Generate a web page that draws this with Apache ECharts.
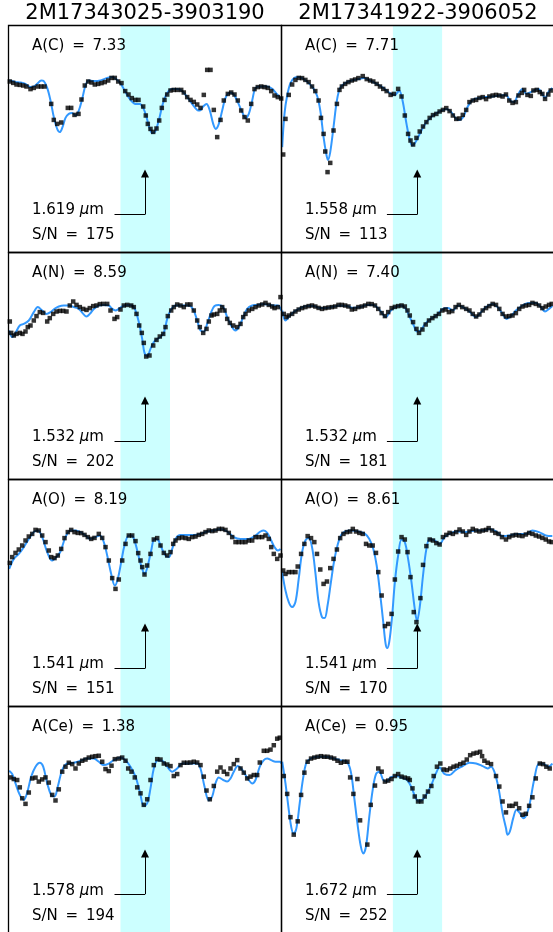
<!DOCTYPE html>
<html>
<head>
<meta charset="utf-8">
<script src="https://cdn.jsdelivr.net/npm/echarts@6/dist/echarts.min.js"></script>
<style>
html,body{margin:0;padding:0;background:#fff;}
#chart{width:553px;height:932px;}
</style>
</head>
<body>
<div id="chart"></div>
<script>
// ---------- labels ----------
const stars = ['2M17343025-3903190', '2M17341922-3906052'];
const elements = ['C', 'N', 'O', 'Ce'];
const abund = [['7.33', '7.71'], ['8.59', '7.40'], ['8.19', '8.61'], ['1.38', '0.95']];
const lineMicron = [['1.619', '1.558'], ['1.532', '1.532'], ['1.541', '1.541'], ['1.578', '1.672']];
const snr = [['175', '113'], ['202', '181'], ['151', '170'], ['194', '252']];

// wavelength offset from line centre (Angstrom), normalised flux
const bandLim = [-2.45, 2.5];

// ---------- observed spectra (points) and synthetic fits (lines) ----------
const obs_C_A = [[-13.52,0.970],[-13.18,0.963],[-12.85,0.955],[-12.52,0.953],[-12.18,0.950],[-11.85,0.945],[-11.45,0.932],[-11.12,0.938],[-10.72,0.945],[-10.38,0.945],[-10.05,0.945],[-9.38,0.858],[-9.12,0.778],[-8.78,0.758],[-8.38,0.765],[-7.72,0.838],[-7.38,0.838],[-7.05,0.803],[-6.65,0.808],[-6.35,0.880],[-6.02,0.950],[-5.68,0.970],[-5.35,0.965],[-5.02,0.955],[-4.68,0.958],[-4.35,0.962],[-4.02,0.967],[-3.68,0.975],[-3.35,0.988],[-3.02,0.988],[-2.68,0.970],[-2.35,0.962],[-1.98,0.922],[-1.65,0.905],[-1.32,0.887],[-0.98,0.878],[-0.65,0.878],[-0.18,0.845],[0.08,0.800],[0.28,0.758],[0.55,0.733],[0.82,0.718],[1.15,0.735],[1.42,0.775],[1.68,0.838],[1.95,0.878],[2.22,0.905],[2.55,0.925],[2.88,0.928],[3.22,0.928],[3.62,0.928],[3.88,0.915],[4.22,0.892],[4.55,0.878],[4.88,0.868],[5.22,0.855],[5.55,0.838],[5.88,0.903],[6.22,1.028],[6.55,1.028],[6.88,0.828],[7.22,0.692],[7.55,0.778],[7.88,0.875],[8.28,0.908],[8.62,0.915],[8.95,0.905],[9.28,0.875],[9.62,0.825],[9.95,0.792],[10.28,0.775],[10.62,0.858],[10.95,0.932],[11.28,0.942],[11.62,0.945],[11.95,0.942],[12.28,0.938],[12.62,0.922],[12.95,0.900],[13.28,0.892],[13.62,0.885]];
const mod_C_A = [[-13.58,0.975],[-12.95,0.968],[-12.45,0.965],[-11.95,0.958],[-11.45,0.942],[-11.12,0.945],[-10.78,0.958],[-10.38,0.975],[-10.12,0.972],[-9.78,0.938],[-9.45,0.875],[-9.12,0.792],[-8.78,0.733],[-8.52,0.717],[-8.25,0.742],[-7.95,0.788],[-7.62,0.808],[-7.28,0.812],[-6.95,0.800],[-6.62,0.825],[-6.28,0.883],[-5.95,0.950],[-5.62,0.975],[-5.12,0.972],[-4.45,0.975],[-3.78,0.988],[-3.28,0.992],[-2.78,0.978],[-2.38,0.955],[-1.95,0.917],[-1.45,0.878],[-0.95,0.858],[-0.52,0.858],[-0.18,0.838],[0.15,0.792],[0.48,0.733],[0.75,0.712],[1.02,0.720],[1.38,0.775],[1.78,0.858],[2.22,0.912],[2.72,0.932],[3.22,0.932],[3.72,0.922],[4.22,0.892],[4.72,0.858],[5.22,0.828],[5.48,0.825],[5.82,0.845],[6.15,0.858],[6.48,0.825],[6.82,0.758],[7.08,0.733],[7.38,0.758],[7.72,0.825],[8.05,0.888],[8.48,0.915],[8.88,0.905],[9.28,0.867],[9.72,0.817],[10.05,0.787],[10.38,0.808],[10.72,0.875],[11.05,0.937],[11.55,0.945],[12.22,0.945],[12.72,0.933],[13.22,0.905],[13.65,0.882]];

const obs_C_B = [[-13.48,0.605],[-13.25,0.783],[-12.92,0.903],[-12.58,0.955],[-12.25,0.978],[-11.92,0.988],[-11.58,0.987],[-11.25,0.978],[-10.92,0.967],[-10.58,0.945],[-10.25,0.922],[-9.92,0.875],[-9.68,0.788],[-9.42,0.708],[-9.25,0.620],[-9.02,0.517],[-8.75,0.563],[-8.42,0.725],[-8.08,0.858],[-7.82,0.928],[-7.58,0.945],[-7.25,0.958],[-6.92,0.967],[-6.58,0.975],[-6.25,0.980],[-5.92,0.987],[-5.48,0.997],[-5.08,0.982],[-4.75,0.975],[-4.42,0.970],[-4.08,0.958],[-3.75,0.945],[-3.42,0.933],[-3.08,0.922],[-2.68,0.903],[-2.35,0.908],[-1.92,0.933],[-1.58,0.895],[-1.25,0.800],[-0.92,0.708],[-0.68,0.675],[-0.42,0.655],[-0.08,0.688],[0.25,0.720],[0.58,0.745],[0.92,0.767],[1.25,0.788],[1.58,0.802],[1.92,0.808],[2.25,0.820],[2.58,0.828],[2.92,0.837],[3.25,0.822],[3.58,0.800],[3.92,0.783],[4.25,0.785],[4.58,0.803],[4.92,0.828],[5.25,0.867],[5.58,0.875],[5.92,0.878],[6.25,0.888],[6.58,0.892],[6.92,0.882],[7.25,0.895],[7.58,0.900],[7.92,0.903],[8.25,0.900],[8.58,0.895],[8.92,0.905],[9.25,0.875],[9.58,0.863],[9.92,0.867],[10.18,0.900],[10.52,0.913],[10.75,0.928],[11.08,0.903],[11.42,0.898],[11.68,0.925],[12.02,0.928],[12.32,0.917],[12.58,0.908],[12.85,0.883],[13.18,0.905],[13.42,0.925]];
const mod_C_B = [[-13.58,0.642],[-13.35,0.808],[-13.08,0.900],[-12.75,0.962],[-12.35,0.988],[-11.92,0.992],[-11.42,0.982],[-10.92,0.962],[-10.48,0.938],[-10.08,0.900],[-9.75,0.825],[-9.42,0.692],[-9.15,0.608],[-8.98,0.578],[-8.75,0.617],[-8.42,0.742],[-8.08,0.875],[-7.75,0.938],[-7.25,0.962],[-6.58,0.975],[-5.92,0.982],[-5.42,0.987],[-4.75,0.975],[-4.08,0.958],[-3.42,0.938],[-2.75,0.912],[-2.25,0.903],[-1.82,0.925],[-1.48,0.875],[-1.08,0.758],[-0.75,0.678],[-0.48,0.650],[-0.08,0.675],[0.42,0.725],[0.92,0.767],[1.58,0.800],[2.25,0.820],[2.92,0.833],[3.42,0.817],[3.92,0.783],[4.25,0.778],[4.65,0.795],[5.08,0.845],[5.58,0.878],[6.25,0.888],[6.92,0.892],[7.58,0.895],[8.25,0.900],[8.92,0.903],[9.32,0.875],[9.75,0.867],[10.08,0.900],[10.58,0.933],[10.98,0.908],[11.42,0.917],[11.85,0.928],[12.18,0.933],[12.52,0.912],[12.85,0.888],[13.18,0.917],[13.58,0.938]];

const obs_N_A = [[-13.52,0.905],[-13.38,0.848],[-13.12,0.835],[-12.85,0.843],[-12.52,0.848],[-12.25,0.843],[-11.95,0.855],[-11.72,0.877],[-11.45,0.885],[-11.12,0.910],[-10.85,0.932],[-10.52,0.952],[-10.18,0.948],[-9.78,0.905],[-9.52,0.922],[-9.18,0.943],[-8.85,0.955],[-8.52,0.958],[-8.18,0.958],[-7.85,0.955],[-7.52,0.985],[-7.18,1.005],[-6.85,0.988],[-6.52,0.977],[-6.18,0.968],[-5.85,0.963],[-5.52,0.972],[-5.18,0.982],[-4.85,0.985],[-4.52,0.992],[-4.18,0.993],[-3.78,0.993],[-3.45,0.960],[-3.05,0.918],[-2.78,0.927],[-2.45,0.965],[-2.12,0.985],[-1.78,0.988],[-1.38,0.985],[-1.12,0.977],[-0.85,0.943],[-0.58,0.885],[-0.32,0.848],[-0.12,0.798],[0.12,0.730],[0.45,0.735],[0.82,0.785],[1.15,0.813],[1.48,0.830],[1.82,0.843],[2.05,0.877],[2.28,0.932],[2.62,0.960],[2.88,0.977],[3.22,0.990],[3.55,0.985],[3.88,0.977],[4.22,0.990],[4.55,0.990],[4.88,0.960],[5.22,0.910],[5.48,0.877],[5.82,0.848],[6.15,0.868],[6.38,0.905],[6.65,0.935],[6.88,0.940],[7.22,0.943],[7.48,0.960],[7.72,0.977],[7.95,0.960],[8.22,0.918],[8.48,0.898],[8.82,0.885],[9.22,0.877],[9.55,0.893],[9.82,0.927],[10.05,0.943],[10.38,0.960],[10.72,0.968],[11.05,0.977],[11.38,0.985],[11.72,0.990],[12.05,0.998],[12.38,0.988],[12.72,0.980],[12.95,0.972],[13.28,0.977],[13.55,1.027]];
const mod_N_A = [[-13.58,0.860],[-13.28,0.827],[-12.95,0.848],[-12.52,0.885],[-12.12,0.893],[-11.62,0.910],[-11.12,0.952],[-10.72,0.977],[-10.28,0.960],[-9.85,0.943],[-9.45,0.952],[-9.05,0.968],[-8.62,0.980],[-8.12,0.985],[-7.62,0.985],[-7.12,0.977],[-6.62,0.968],[-6.18,0.943],[-5.85,0.930],[-5.52,0.943],[-5.12,0.968],[-4.62,0.985],[-4.12,0.988],[-3.62,0.985],[-3.28,0.968],[-2.95,0.960],[-2.62,0.968],[-2.28,0.980],[-1.78,0.988],[-1.28,0.985],[-0.95,0.960],[-0.62,0.902],[-0.28,0.818],[-0.05,0.748],[0.22,0.732],[0.55,0.768],[0.88,0.802],[1.22,0.818],[1.55,0.827],[1.88,0.848],[2.22,0.918],[2.55,0.960],[3.05,0.985],[3.72,0.985],[4.38,0.985],[4.82,0.965],[5.22,0.910],[5.55,0.860],[5.88,0.855],[6.22,0.893],[6.62,0.952],[6.95,0.982],[7.38,0.988],[7.82,0.977],[8.22,0.927],[8.62,0.885],[9.05,0.860],[9.38,0.877],[9.82,0.927],[10.22,0.968],[10.72,0.985],[11.22,0.988],[11.88,0.993],[12.38,0.988],[12.82,0.985],[13.28,0.985],[13.65,0.960]];

const obs_N_B = [[-13.42,0.943],[-13.15,0.927],[-12.92,0.935],[-12.58,0.943],[-12.25,0.955],[-11.92,0.965],[-11.58,0.972],[-11.25,0.977],[-10.92,0.982],[-10.58,0.985],[-10.25,0.980],[-9.92,0.973],[-9.58,0.968],[-9.25,0.972],[-8.92,0.975],[-8.58,0.977],[-8.25,0.980],[-7.92,0.988],[-7.58,0.988],[-7.25,0.985],[-6.92,0.980],[-6.58,0.965],[-6.25,0.968],[-5.92,0.977],[-5.58,0.980],[-5.25,0.985],[-4.92,0.993],[-4.58,0.992],[-4.25,0.985],[-3.92,0.968],[-3.58,0.947],[-3.25,0.932],[-2.92,0.952],[-2.58,0.972],[-2.25,0.978],[-1.92,0.982],[-1.58,0.985],[-1.25,0.980],[-0.98,0.960],[-0.75,0.935],[-0.42,0.902],[-0.08,0.868],[0.18,0.848],[0.52,0.865],[0.85,0.890],[1.18,0.910],[1.52,0.922],[1.85,0.932],[2.18,0.943],[2.52,0.960],[2.85,0.965],[3.18,0.952],[3.52,0.957],[3.85,0.977],[4.18,0.988],[4.52,0.977],[4.92,0.968],[5.25,0.960],[5.58,0.943],[5.92,0.930],[6.25,0.940],[6.58,0.960],[6.92,0.972],[7.25,0.982],[7.58,0.993],[7.92,0.988],[8.25,0.968],[8.58,0.943],[8.92,0.930],[9.25,0.932],[9.58,0.935],[9.92,0.947],[10.25,0.968],[10.58,0.980],[10.92,0.985],[11.25,0.988],[11.58,0.998],[11.92,0.993],[12.25,0.985],[12.58,0.972],[12.92,0.980],[13.25,0.988],[13.52,0.993]];
const mod_N_B = [[-13.58,0.960],[-13.25,0.910],[-12.92,0.927],[-12.42,0.952],[-11.75,0.972],[-11.08,0.982],[-10.42,0.982],[-9.75,0.972],[-9.08,0.973],[-8.42,0.980],[-7.75,0.985],[-7.08,0.982],[-6.42,0.973],[-5.75,0.977],[-5.08,0.988],[-4.42,0.988],[-3.75,0.960],[-3.15,0.927],[-2.75,0.955],[-2.25,0.977],[-1.58,0.985],[-1.15,0.968],[-0.75,0.927],[-0.35,0.885],[-0.02,0.855],[0.32,0.860],[0.75,0.890],[1.25,0.915],[1.92,0.935],[2.58,0.968],[3.08,0.972],[3.58,0.960],[4.08,0.985],[4.58,0.977],[5.25,0.955],[5.92,0.927],[6.42,0.952],[6.92,0.977],[7.58,0.993],[8.08,0.977],[8.58,0.943],[8.98,0.918],[9.42,0.932],[9.92,0.960],[10.58,0.985],[11.25,0.997],[11.92,0.997],[12.42,0.977],[12.85,0.955],[13.25,0.968],[13.58,0.982]];

const obs_O_A = [[-13.52,0.833],[-13.28,0.862],[-12.95,0.883],[-12.62,0.900],[-12.28,0.920],[-11.95,0.945],[-11.62,0.965],[-11.28,0.978],[-10.95,0.998],[-10.62,0.995],[-10.28,0.970],[-9.95,0.937],[-9.62,0.895],[-9.38,0.862],[-9.05,0.857],[-8.72,0.870],[-8.38,0.903],[-8.05,0.957],[-7.72,0.987],[-7.38,0.998],[-7.05,0.987],[-6.72,0.983],[-6.38,0.982],[-6.05,0.973],[-5.72,0.962],[-5.38,0.953],[-5.05,0.958],[-4.62,0.978],[-4.28,0.958],[-3.95,0.912],[-3.62,0.845],[-3.28,0.757],[-2.95,0.703],[-2.62,0.750],[-2.28,0.845],[-1.95,0.928],[-1.62,0.970],[-1.28,0.970],[-0.95,0.942],[-0.68,0.882],[-0.45,0.845],[-0.28,0.812],[-0.05,0.775],[0.22,0.820],[0.55,0.878],[0.88,0.950],[1.22,0.957],[1.55,0.920],[1.88,0.883],[2.22,0.870],[2.55,0.887],[2.82,0.928],[3.05,0.945],[3.38,0.957],[3.72,0.960],[4.05,0.957],[4.38,0.953],[4.72,0.962],[5.05,0.965],[5.38,0.973],[5.72,0.978],[6.05,0.987],[6.38,0.995],[6.72,0.992],[7.05,0.995],[7.38,1.003],[7.72,1.003],[8.05,0.998],[8.38,0.983],[8.72,0.962],[9.05,0.937],[9.38,0.937],[9.72,0.937],[10.05,0.937],[10.38,0.945],[10.72,0.945],[11.05,0.962],[11.38,0.962],[11.72,0.962],[12.05,0.970],[12.38,0.953],[12.62,0.912],[12.88,0.878],[13.22,0.853],[13.55,0.870]];
const mod_O_A = [[-13.58,0.803],[-13.12,0.853],[-12.62,0.878],[-12.12,0.912],[-11.62,0.953],[-11.12,0.987],[-10.72,0.995],[-10.28,0.962],[-9.78,0.887],[-9.28,0.845],[-8.85,0.862],[-8.45,0.890],[-7.95,0.962],[-7.45,0.995],[-6.95,0.995],[-6.45,0.987],[-5.95,0.970],[-5.45,0.953],[-4.95,0.962],[-4.52,0.970],[-4.12,0.937],[-3.78,0.870],[-3.38,0.778],[-3.02,0.720],[-2.72,0.753],[-2.38,0.837],[-2.05,0.920],[-1.62,0.970],[-1.28,0.967],[-0.95,0.928],[-0.62,0.862],[-0.28,0.803],[-0.05,0.778],[0.28,0.820],[0.62,0.895],[0.95,0.953],[1.28,0.950],[1.62,0.912],[2.05,0.870],[2.38,0.862],[2.72,0.903],[3.05,0.953],[3.55,0.973],[4.22,0.973],[4.88,0.973],[5.55,0.978],[6.22,0.990],[6.88,0.995],[7.55,1.003],[8.22,0.990],[8.88,0.962],[9.55,0.953],[10.38,0.953],[11.05,0.970],[11.55,0.990],[11.88,0.995],[12.22,0.983],[12.62,0.945],[12.95,0.912],[13.28,0.895],[13.55,0.903]];

const obs_O_B = [[-13.48,0.795],[-13.25,0.778],[-12.92,0.787],[-12.58,0.787],[-12.25,0.787],[-12.02,0.815],[-11.68,0.878],[-11.35,0.928],[-11.02,0.967],[-10.68,0.957],[-10.35,0.937],[-10.08,0.878],[-9.75,0.800],[-9.42,0.728],[-9.08,0.740],[-8.75,0.807],[-8.42,0.853],[-8.08,0.900],[-7.75,0.957],[-7.42,0.978],[-7.08,0.987],[-6.75,0.990],[-6.48,1.003],[-6.15,0.990],[-5.82,0.983],[-5.48,0.978],[-5.15,0.928],[-4.82,0.920],[-4.48,0.920],[-4.15,0.883],[-3.92,0.787],[-3.58,0.670],[-3.25,0.517],[-2.92,0.528],[-2.58,0.578],[-2.25,0.750],[-1.92,0.890],[-1.58,0.962],[-1.25,0.950],[-0.98,0.887],[-0.68,0.762],[-0.35,0.587],[-0.08,0.537],[0.32,0.657],[0.58,0.823],[0.92,0.917],[1.25,0.950],[1.58,0.945],[1.92,0.932],[2.25,0.925],[2.58,0.962],[2.92,0.973],[3.25,0.983],[3.58,0.978],[3.92,0.987],[4.25,1.000],[4.58,0.990],[4.92,0.973],[5.25,0.990],[5.58,1.003],[5.92,0.995],[6.25,0.990],[6.58,0.995],[6.92,0.998],[7.18,1.007],[7.52,0.995],[7.85,0.983],[8.18,0.978],[8.52,0.962],[8.92,0.950],[9.25,0.962],[9.58,0.970],[9.92,0.973],[10.25,0.970],[10.58,0.967],[10.92,0.975],[11.25,0.983],[11.58,0.978],[11.92,0.970],[12.25,0.965],[12.58,0.958],[12.92,0.950],[13.25,0.940],[13.52,0.937]];
const mod_O_B = [[-13.58,0.787],[-13.25,0.695],[-12.92,0.637],[-12.58,0.612],[-12.25,0.637],[-11.92,0.753],[-11.58,0.887],[-11.25,0.945],[-10.92,0.957],[-10.58,0.912],[-10.25,0.787],[-9.92,0.637],[-9.58,0.562],[-9.32,0.557],[-9.02,0.620],[-8.68,0.737],[-8.35,0.845],[-8.02,0.920],[-7.68,0.970],[-7.25,0.990],[-6.58,0.995],[-5.92,0.990],[-5.25,0.978],[-4.82,0.953],[-4.42,0.903],[-4.08,0.820],[-3.75,0.687],[-3.42,0.537],[-3.18,0.428],[-3.02,0.407],[-2.82,0.437],[-2.55,0.553],[-2.25,0.737],[-1.92,0.870],[-1.58,0.950],[-1.25,0.937],[-0.92,0.853],[-0.58,0.737],[-0.25,0.603],[-0.02,0.542],[0.25,0.612],[0.58,0.770],[0.92,0.903],[1.25,0.953],[1.75,0.945],[2.25,0.928],[2.75,0.962],[3.42,0.983],[4.08,0.990],[4.75,0.987],[5.25,0.990],[5.92,0.995],[6.58,0.995],[7.25,1.003],[7.92,0.990],[8.58,0.967],[9.25,0.970],[10.08,0.978],[10.92,0.978],[11.58,0.995],[12.25,0.987],[12.92,0.970],[13.58,0.967]];

const obs_Ce_A = [[-13.45,0.893],[-13.12,0.885],[-12.78,0.880],[-12.52,0.843],[-12.28,0.788],[-11.95,0.760],[-11.62,0.817],[-11.28,0.888],[-10.95,0.892],[-10.62,0.872],[-10.28,0.883],[-9.95,0.893],[-9.62,0.867],[-9.28,0.805],[-8.95,0.777],[-8.62,0.833],[-8.28,0.922],[-7.95,0.947],[-7.62,0.967],[-7.28,0.960],[-6.95,0.938],[-6.62,0.963],[-6.28,0.977],[-5.95,0.983],[-5.62,0.993],[-5.28,0.997],[-4.95,1.000],[-4.62,1.002],[-4.28,0.972],[-3.95,0.935],[-3.62,0.925],[-3.35,0.952],[-3.02,0.985],[-2.62,0.988],[-2.28,0.993],[-1.95,0.977],[-1.68,0.938],[-1.35,0.922],[-1.02,0.893],[-0.78,0.843],[-0.45,0.813],[-0.12,0.755],[0.22,0.783],[0.55,0.880],[0.88,0.955],[1.22,0.985],[1.55,0.983],[1.88,0.963],[2.22,0.958],[2.55,0.950],[2.88,0.900],[3.22,0.910],[3.55,0.955],[3.88,0.967],[4.22,0.967],[4.55,0.968],[4.88,0.972],[5.22,0.968],[5.55,0.955],[5.88,0.897],[6.15,0.827],[6.48,0.783],[6.88,0.850],[7.22,0.922],[7.55,0.943],[7.88,0.922],[8.22,0.910],[8.55,0.938],[8.88,0.960],[9.22,0.980],[9.55,0.938],[9.88,0.917],[10.22,0.888],[10.55,0.897],[10.88,0.905],[11.22,0.905],[11.48,0.968],[11.88,1.027],[12.22,1.027],[12.55,1.033],[12.88,1.055],[13.22,1.088],[13.48,1.093]];
const mod_Ce_A = [[-13.58,0.927],[-13.28,0.910],[-12.95,0.863],[-12.52,0.805],[-12.12,0.780],[-11.78,0.817],[-11.38,0.897],[-10.95,0.947],[-10.52,0.967],[-10.18,0.947],[-9.78,0.863],[-9.38,0.805],[-9.05,0.797],[-8.72,0.847],[-8.28,0.930],[-7.78,0.963],[-7.12,0.967],[-6.45,0.977],[-5.78,0.988],[-5.12,0.988],[-4.62,0.972],[-4.12,0.955],[-3.62,0.963],[-3.12,0.980],[-2.45,0.993],[-1.95,0.980],[-1.45,0.947],[-0.95,0.897],[-0.52,0.822],[-0.12,0.750],[0.22,0.763],[0.55,0.838],[0.88,0.938],[1.28,0.980],[1.72,0.977],[2.22,0.947],[2.72,0.922],[3.22,0.938],[3.72,0.963],[4.22,0.963],[4.72,0.963],[5.22,0.963],[5.55,0.938],[5.95,0.847],[6.38,0.777],[6.72,0.797],[7.05,0.863],[7.38,0.893],[7.82,0.880],[8.22,0.872],[8.55,0.888],[8.88,0.922],[9.28,0.950],[9.62,0.938],[10.05,0.905],[10.38,0.880],[10.72,0.863],[11.05,0.880],[11.48,0.947],[11.88,0.980],[12.22,0.988],[12.62,0.980],[13.05,0.972],[13.48,0.972],[13.65,0.963]];

const obs_Ce_B = [[-13.42,0.900],[-13.08,0.810],[-12.75,0.693],[-12.42,0.605],[-12.02,0.672],[-11.68,0.805],[-11.35,0.917],[-11.02,0.972],[-10.68,0.988],[-10.35,0.993],[-10.02,0.997],[-9.68,1.000],[-9.35,0.997],[-9.02,0.997],[-8.68,0.993],[-8.35,0.988],[-8.02,0.977],[-7.68,0.967],[-7.35,0.972],[-7.02,0.972],[-6.75,0.893],[-6.42,0.810],[-6.02,0.885],[-5.75,0.677],[-5.02,0.555],[-4.68,0.755],[-4.25,0.852],[-3.92,0.938],[-3.58,0.922],[-3.25,0.872],[-2.92,0.877],[-2.58,0.885],[-2.25,0.900],[-1.92,0.910],[-1.58,0.897],[-1.25,0.892],[-0.92,0.888],[-0.75,0.880],[-0.48,0.838],[-0.25,0.797],[0.08,0.772],[0.42,0.772],[0.75,0.797],[1.08,0.822],[1.42,0.850],[1.65,0.900],[1.98,0.947],[2.32,0.963],[2.65,0.933],[2.98,0.930],[3.32,0.938],[3.65,0.947],[3.98,0.952],[4.32,0.960],[4.65,0.967],[4.98,0.983],[5.32,1.005],[5.65,1.013],[5.98,1.017],[6.32,1.022],[6.52,1.000],[6.75,0.977],[7.08,0.967],[7.42,0.960],[7.92,0.900],[8.25,0.847],[8.58,0.772],[8.92,0.717],[9.25,0.750],[9.58,0.750],[9.92,0.760],[10.25,0.738],[10.58,0.705],[10.92,0.710],[11.25,0.750],[11.58,0.793],[11.92,0.888],[12.32,0.963],[12.65,0.960],[12.98,0.947],[13.32,0.938]];
const mod_Ce_B = [[-13.58,0.972],[-13.25,0.863],[-12.92,0.730],[-12.65,0.638],[-12.42,0.610],[-12.15,0.638],[-11.82,0.763],[-11.48,0.888],[-11.15,0.967],[-10.75,0.987],[-10.08,0.997],[-9.25,0.997],[-8.42,0.988],[-7.75,0.980],[-7.08,0.972],[-6.68,0.922],[-6.35,0.797],[-6.02,0.663],[-5.68,0.547],[-5.42,0.510],[-5.15,0.547],[-4.82,0.697],[-4.48,0.830],[-4.15,0.910],[-3.82,0.922],[-3.42,0.880],[-3.08,0.872],[-2.68,0.893],[-2.15,0.900],[-1.58,0.893],[-1.02,0.880],[-0.58,0.843],[-0.15,0.788],[0.18,0.772],[0.58,0.783],[0.98,0.813],[1.42,0.855],[1.85,0.910],[2.25,0.943],[2.75,0.910],[3.25,0.905],[3.85,0.930],[4.58,0.950],[5.25,0.967],[5.92,0.963],[6.58,0.950],[7.08,0.938],[7.42,0.947],[7.75,0.922],[8.18,0.838],[8.58,0.713],[8.92,0.638],[9.08,0.605],[9.32,0.622],[9.65,0.688],[9.98,0.730],[10.32,0.713],[10.65,0.688],[10.98,0.705],[11.32,0.763],[11.75,0.880],[12.25,0.963],[12.75,0.960],[13.18,0.947],[13.58,0.963]];

const observed = [[obs_C_A, obs_C_B], [obs_N_A, obs_N_B], [obs_O_A, obs_O_B], [obs_Ce_A, obs_Ce_B]];
const models = [[mod_C_A, mod_C_B], [mod_N_A, mod_N_B], [mod_O_A, mod_O_B], [mod_Ce_A, mod_Ce_B]];

// annotation arrow (data units): start of horizontal leg, its level, arrow tip level
const arrowStartX = -3.05;
const arrowY = [0.305, 0.51];

// ---------- layout ----------
const L = [8.5, 281.5], T0 = 25.5, W = 273, H = 227;
const FONT = 'DejaVu Sans';
const chart = echarts.init(document.getElementById('chart'), null, {renderer: 'canvas'});

const grid = [], xAxis = [], yAxis = [], series = [], graphic = [];
for (let r = 0; r < 4; r++) {
  for (let c = 0; c < 2; c++) {
    const i = r * 2 + c;
    const left = L[c], top = T0 + r * H;
    grid.push({left: left, top: top, width: W, height: H, containLabel: false});
    xAxis.push({type: 'value', gridIndex: i, min: -13.65, max: 13.65, show: false});
    yAxis.push({type: 'value', gridIndex: i, min: 0.115, max: 1.25, show: false});
    series.push({
      type: 'line', xAxisIndex: i, yAxisIndex: i, data: models[r][c],
      smooth: 0.35, symbol: 'none', z: 3,
      lineStyle: {color: '#3399ff', width: 2},
      markArea: {silent: true, itemStyle: {color: '#ccffff'},
        data: [[{xAxis: bandLim[0]}, {xAxis: bandLim[1]}]]},
      markLine: {silent: true, animation: false, symbol: ['none', 'triangle'], symbolSize: [8, 8],
        lineStyle: {color: '#000', width: 1, type: 'solid'}, label: {show: false},
        data: [
          [{coord: [arrowStartX, arrowY[0]], symbol: 'none'}, {coord: [0, arrowY[0]], symbol: 'none'}],
          [{coord: [0, arrowY[0]], symbol: 'none'}, {coord: [0, arrowY[1]], symbol: 'triangle'}]
        ]},
      animation: false
    });
    series.push({
      type: 'scatter', xAxisIndex: i, yAxisIndex: i, data: observed[r][c],
      symbol: 'rect', symbolSize: 4.5, z: 4,
      itemStyle: {color: '#000'}, animation: false, silent: true
    });
    // frame
    graphic.push({type: 'rect', z: 100, silent: true,
      shape: {x: left, y: top, width: W, height: H},
      style: {fill: null, stroke: '#000', lineWidth: 1.3}});
    // texts
    const tx = left + 23.5;
    graphic.push({type: 'text', z: 101, silent: true, x: tx, y: top + 20.5,
      style: {text: 'A(' + elements[r] + ') \u2009=\u2009 ' + abund[r][c], font: '15px "' + FONT + '"', fill: '#000', verticalAlign: 'middle', align: 'left'}});
    graphic.push({type: 'text', z: 101, silent: true, x: tx, y: top + 184.5,
      style: {text: lineMicron[r][c] + ' {i|\u03bc}m', font: '15px "' + FONT + '"', fill: '#000', verticalAlign: 'middle', align: 'left',
        rich: {i: {fontStyle: 'italic', fontFamily: FONT, fontSize: 15, fill: '#000'}}}});
    graphic.push({type: 'text', z: 101, silent: true, x: tx, y: top + 209.5,
      style: {text: 'S/N \u2009=\u2009 ' + snr[r][c], font: '15px "' + FONT + '"', fill: '#000', verticalAlign: 'middle', align: 'left'}});
  }
}
for (let c = 0; c < 2; c++) {
  graphic.push({type: 'text', z: 101, silent: true, x: L[c] + W / 2, y: 13.5,
    style: {text: stars[c], font: '21px "' + FONT + '"', fill: '#000', align: 'center', verticalAlign: 'middle'}});
}

chart.setOption({
  animation: false,
  backgroundColor: '#fff',
  grid: grid, xAxis: xAxis, yAxis: yAxis, series: series, graphic: graphic
});
</script>
</body>
</html>
